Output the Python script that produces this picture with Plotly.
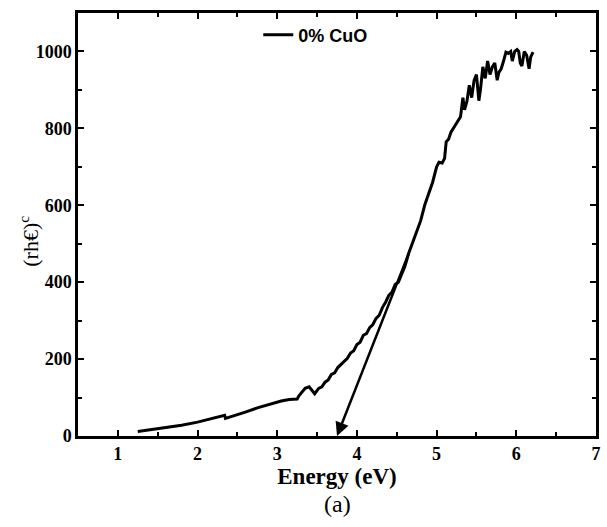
import plotly.graph_objects as go

energy = [1.25, 1.40, 1.60, 1.80, 2.00, 2.20, 2.34, 2.35, 2.45, 2.60, 2.75, 2.90, 3.05, 3.15, 3.25,
          3.27, 3.30, 3.35, 3.40, 3.44, 3.47, 3.52, 3.56, 3.60, 3.64, 3.68, 3.72, 3.76, 3.80, 3.84,
          3.88, 3.92, 3.96, 4.00, 4.04, 4.08, 4.12, 4.16, 4.20, 4.24, 4.28, 4.32, 4.36, 4.40, 4.44,
          4.48, 4.52, 4.56, 4.60, 4.65, 4.70, 4.75, 4.80, 4.85, 4.90, 4.95, 5.00, 5.03, 5.07, 5.10,
          5.12, 5.15, 5.18, 5.21, 5.24, 5.27, 5.30, 5.33, 5.35, 5.38, 5.41, 5.44, 5.47, 5.50, 5.53,
          5.55, 5.58, 5.61, 5.64, 5.67, 5.70, 5.73, 5.76, 5.78, 5.81, 5.84, 5.87, 5.90, 5.93, 5.95,
          5.98, 6.01, 6.03, 6.05, 6.07, 6.10, 6.13, 6.16, 6.18, 6.21]
absorb = [12, 16, 21, 28, 36, 46, 54, 46, 52, 62, 73, 83, 91, 95, 96,
          104, 112, 124, 128, 118, 110, 124, 128, 140, 146, 160, 164, 178, 186, 196,
          202, 216, 222, 238, 244, 262, 266, 282, 290, 306, 314, 334, 348, 366, 374,
          394, 400, 420, 440, 475, 505, 530, 560, 600, 630, 660, 700, 712, 710, 722,
          765, 772, 790, 800, 812, 820, 830, 880, 848, 870, 912, 880, 925, 940, 872,
          900, 960, 930, 975, 940, 960, 970, 925, 945, 955, 975, 998, 995, 1000, 975,
          1000, 1005, 1000, 970, 962, 1000, 990, 955, 985, 998]

# tangent (band-gap extrapolation) arrow: start and tip
tangent_x = [4.66, 3.75]
tangent_y = [480, 0]

x_ticks = [1, 2, 3, 4, 5, 6, 7]
y_ticks = [0, 200, 400, 600, 800, 1000]

fig = go.Figure()
fig.add_trace(go.Scatter(x=energy, y=absorb, mode="lines", name="0% CuO",
                         line=dict(color="black", width=3)))

fig.add_annotation(x=tangent_x[1], y=tangent_y[1], ax=tangent_x[0], ay=tangent_y[0],
                   xref="x", yref="y", axref="x", ayref="y", text="", showarrow=True,
                   arrowhead=2, arrowsize=1.1, arrowwidth=2.5, arrowcolor="black", standoff=0)

fig.add_annotation(x=0.5, y=-0.16, xref="paper", yref="paper", text="(a)", showarrow=False,
                   xanchor="center", yanchor="middle",
                   font=dict(family="Liberation Serif", size=24, color="black"))

# y-axis title placed as rotated annotation for precise positioning
fig.add_annotation(x=-0.094, y=0.46, xref="paper", yref="paper", text="(rh€)<sup>c</sup>",
                   showarrow=False, textangle=-90, xanchor="center", yanchor="middle",
                   font=dict(family="Liberation Serif", size=22, color="black"))

axis_common = dict(showline=True, linecolor="black", linewidth=2.5, mirror="allticks",
                   ticks="inside", ticklen=6, tickwidth=2, tickcolor="black",
                   showgrid=False, zeroline=False,
                   tickfont=dict(family="Liberation Serif", size=18, color="black", weight="bold"))

fig.update_layout(
    width=607, height=527,
    margin=dict(l=78, r=6, t=13, b=91),
    plot_bgcolor="white", paper_bgcolor="white",
    showlegend=True,
    legend=dict(x=0.348, y=0.948, xanchor="left", yanchor="middle", bgcolor="rgba(0,0,0,0)",
                font=dict(family="Liberation Sans", size=18, color="black", weight="bold")),
    xaxis=dict(range=[0.5, 7], tickvals=x_ticks,
               minor=dict(ticks="inside", ticklen=4, tickwidth=2, dtick=0.5, tick0=0.5, tickcolor="black"),
               title=dict(text="Energy (eV)", standoff=5,
                          font=dict(family="Liberation Serif", size=23, color="black", weight="bold")),
               **axis_common),
    yaxis=dict(range=[0, 1100], tickvals=y_ticks,
               minor=dict(ticks="inside", ticklen=4, tickwidth=2, dtick=100, tick0=0, tickcolor="black"),
               **axis_common),
)

fig.write_html("out.html")
